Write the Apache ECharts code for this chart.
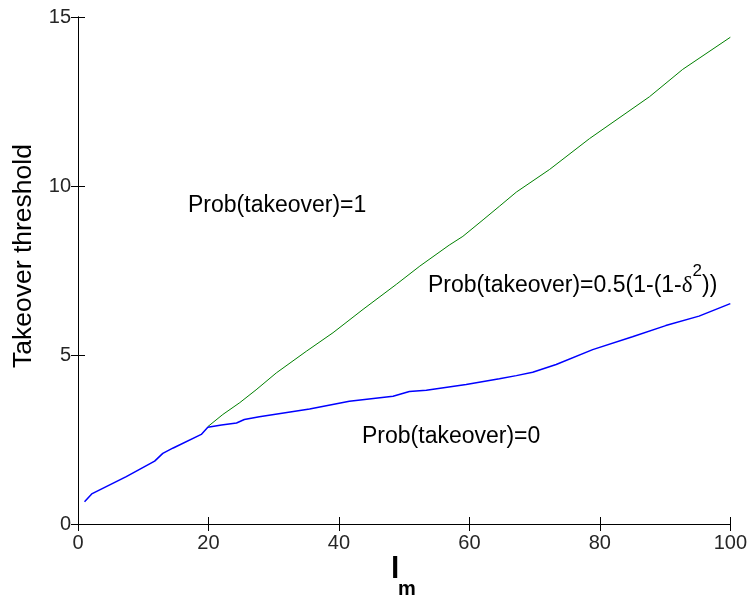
<!DOCTYPE html>
<html>
<head>
<meta charset="utf-8">
<script src="https://cdn.jsdelivr.net/npm/echarts@6/dist/echarts.min.js"></script>
<style>
  html, body { margin: 0; padding: 0; background: #fff; }
  #chart { width: 750px; height: 596px; }
</style>
</head>
<body>
<div id="chart"></div>
<script>
// Lower boundary (blue): threshold below which takeover never happens
const lowerX = [1, 2.1, 7.4, 11.75, 13, 14.6, 18.9, 19.9, 22, 24.3, 25.5, 27.8, 35.5, 41.6, 48.3, 50.8, 53.4, 59.5, 64.6, 67.2, 69.7, 73.3, 78.9, 85, 90.1, 95.2, 100];
const lowerY = [0.66, 0.89, 1.40, 1.86, 2.09, 2.25, 2.65, 2.86, 2.93, 2.99, 3.09, 3.17, 3.40, 3.63, 3.78, 3.92, 3.96, 4.13, 4.30, 4.39, 4.49, 4.72, 5.16, 5.54, 5.87, 6.15, 6.52];

// Upper boundary (green): threshold above which takeover is certain
const upperX = [19.9, 22.2, 24.8, 27.3, 30.4, 35, 39.1, 43.7, 48.8, 52.4, 56.9, 59, 62.1, 64.6, 67.2, 72.3, 78.4, 87.6, 92.7, 100];
const upperY = [2.88, 3.24, 3.59, 3.97, 4.47, 5.11, 5.66, 6.35, 7.09, 7.63, 8.25, 8.51, 9.00, 9.40, 9.82, 10.49, 11.40, 12.64, 13.45, 14.40];

// Axis ranges and tick spacing
const xTicks = { min: 0, max: 100, interval: 20 };
const yTicks = { min: 0, max: 15, interval: 5 };

// Region labels
const regionLabels = {
  certain: 'Prob(takeover)=1',
  partial: '{n|Prob(takeover)=0.5(1-(1-}{d|δ}{s|2}{n|))}',
  never: 'Prob(takeover)=0'
};
const yName = 'Takeover threshold';
const xNameMain = 'l';
const xNameSub = 'm';

const zip = (xs, ys) => xs.map((x, i) => [x, ys[i]]);

const FONT = 'Liberation Sans, Arial, sans-serif';
const axisLineStyle = { show: true, lineStyle: { color: '#000', width: 1 } };
const tickStyle = { show: true, inside: true, length: 7, lineStyle: { color: '#000', width: 1 } };
const tickLabel = { color: '#262626', fontSize: 20, fontFamily: FONT, margin: 9 };

const chart = echarts.init(document.getElementById('chart'), null, { renderer: 'canvas' });

chart.setOption({
  animation: false,
  backgroundColor: '#fff',
  grid: { left: 78, right: 19, top: 17, bottom: 72, containLabel: false },
  xAxis: [
    { type: 'value', position: 'bottom', ...xTicks,
      axisLine: axisLineStyle, axisTick: tickStyle, splitLine: { show: false },
      axisLabel: tickLabel },
    { type: 'value', position: 'top', ...xTicks,
      axisLine: axisLineStyle, axisTick: tickStyle, splitLine: { show: false },
      axisLabel: { show: false } }
  ],
  yAxis: [
    { type: 'value', position: 'left', ...yTicks,
      axisLine: axisLineStyle, axisTick: tickStyle, splitLine: { show: false },
      axisLabel: { ...tickLabel, margin: 7 } },
    { type: 'value', position: 'right', ...yTicks,
      axisLine: axisLineStyle, axisTick: tickStyle, splitLine: { show: false },
      axisLabel: { show: false } }
  ],
  series: [
    { type: 'line', name: 'upper', data: zip(upperX, upperY), showSymbol: false,
      lineStyle: { color: '#008000', width: 1 }, z: 2 },
    { type: 'line', name: 'lower', data: zip(lowerX, lowerY), showSymbol: false,
      lineStyle: { color: '#0000ff', width: 1.5 }, z: 3 }
  ],
  graphic: [
    { type: 'text', x: 24, y: 256, rotation: Math.PI / 2,
      style: { text: yName, font: '26.5px ' + FONT, fill: '#000', align: 'center', verticalAlign: 'middle' } },
    { type: 'text', x: 391, y: 570,
      style: { text: xNameMain, font: 'bold 30px ' + FONT, fill: '#000', align: 'left', verticalAlign: 'middle' } },
    { type: 'text', x: 398, y: 589,
      style: { text: xNameSub, font: 'bold 20px ' + FONT, fill: '#000', align: 'left', verticalAlign: 'middle' } },
    { type: 'text', x: 188, y: 206,
      style: { text: regionLabels.certain, font: '23px ' + FONT, fill: '#000', align: 'left', verticalAlign: 'middle' } },
    { type: 'text', x: 428, y: 286,
      style: { text: regionLabels.partial, align: 'left', verticalAlign: 'middle',
        rich: {
          n: { fontSize: 23, fontFamily: FONT, color: '#000', lineHeight: 23 },
          d: { fontSize: 23, fontFamily: 'Liberation Serif, serif', color: '#000', lineHeight: 23 },
          s: { fontSize: 17, fontFamily: FONT, color: '#000', lineHeight: 17, padding: [0, 0, 29, 0] }
        } } },
    { type: 'text', x: 362, y: 437,
      style: { text: regionLabels.never, font: '23px ' + FONT, fill: '#000', align: 'left', verticalAlign: 'middle' } }
  ]
});
</script>
</body>
</html>
